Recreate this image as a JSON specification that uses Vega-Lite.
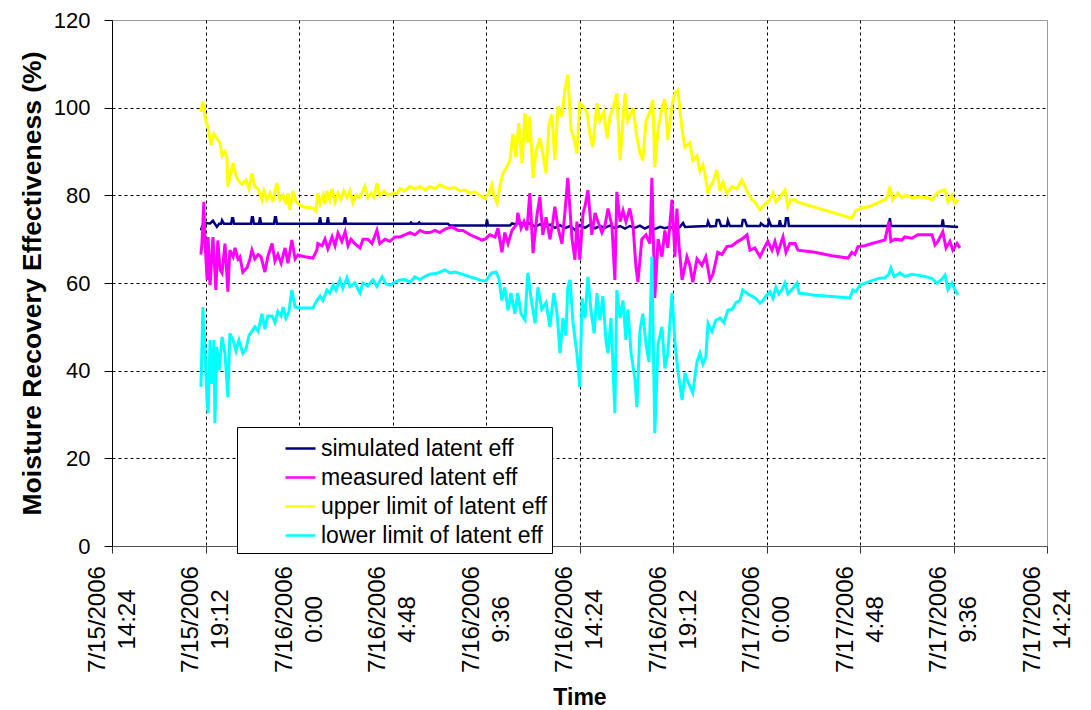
{
"$schema": "https://vega.github.io/schema/vega-lite/v6.json",
"width": 935, "height": 526,
"autosize": "none",
"padding": {"left": 112, "top": 20, "right": 44, "bottom": 164},
"background": "white",
"config": {"font": "Liberation Sans", "view": {"stroke": "#9a9a9a", "strokeWidth": 1}},
"encoding": {
  "x": {"field": "t", "type": "temporal", "title": "Time",
    "scale": {"type": "utc", "nice": false, "domain": [{"year": 2006, "month": 7, "date": 15, "hours": 14, "minutes": 24, "utc": true}, {"year": 2006, "month": 7, "date": 17, "hours": 14, "minutes": 24, "utc": true}]},
    "axis": {
      "values": [
        {"year": 2006, "month": 7, "date": 15, "hours": 14, "minutes": 24, "utc": true},
        {"year": 2006, "month": 7, "date": 15, "hours": 19, "minutes": 12, "utc": true},
        {"year": 2006, "month": 7, "date": 16, "hours": 0, "minutes": 0, "utc": true},
        {"year": 2006, "month": 7, "date": 16, "hours": 4, "minutes": 48, "utc": true},
        {"year": 2006, "month": 7, "date": 16, "hours": 9, "minutes": 36, "utc": true},
        {"year": 2006, "month": 7, "date": 16, "hours": 14, "minutes": 24, "utc": true},
        {"year": 2006, "month": 7, "date": 16, "hours": 19, "minutes": 12, "utc": true},
        {"year": 2006, "month": 7, "date": 17, "hours": 0, "minutes": 0, "utc": true},
        {"year": 2006, "month": 7, "date": 17, "hours": 4, "minutes": 48, "utc": true},
        {"year": 2006, "month": 7, "date": 17, "hours": 9, "minutes": 36, "utc": true},
        {"year": 2006, "month": 7, "date": 17, "hours": 14, "minutes": 24, "utc": true}
      ],
      "labelExpr": "[utcFormat(datum.value, '%-m/%-d/%Y'), utcFormat(datum.value, '%-H:%M')]",
      "labelAngle": -90, "labelAlign": "center", "labelBaseline": "middle", "labelLineHeight": 30,
      "labelFontSize": 24, "labelColor": "black", "labelPadding": 66, "labelOffset": -15, "labelOverlap": false, "labelFlush": false,
      "tickSize": 7, "tickColor": "#333333", "domainColor": "#555555",
      "grid": true, "gridColor": "black", "gridDash": [3, 3],
      "gridOpacity": {"condition": {"test": "datum.value <= utc(2006,6,15,14,24) || datum.value >= utc(2006,6,17,14,24)", "value": 0}, "value": 1},
      "titleFontSize": 23, "titleFontWeight": "bold", "titleColor": "black", "titlePadding": 14
    }
  },
  "y": {"field": "v", "type": "quantitative", "title": "Moisture Recovery Effectiveness (%)",
    "scale": {"domain": [0, 120], "nice": false},
    "axis": {
      "values": [0, 20, 40, 60, 80, 100, 120],
      "labelFontSize": 22, "labelColor": "black", "labelPadding": 14,
      "tickSize": 8, "tickColor": "black", "domainColor": "black",
      "grid": true, "gridColor": "black", "gridDash": [3, 3],
      "gridOpacity": {"condition": {"test": "datum.value >= 120 || datum.value <= 0", "value": 0}, "value": 1},
      "titleFontSize": 26.5, "titleFontWeight": "bold", "titleColor": "black", "titlePadding": 7
    }
  }
},
"layer": [
{"data": {"values": [
{"t":"2006-07-15T18:58Z","v":72},{"t":"2006-07-15T19:01Z","v":72.8},{"t":"2006-07-15T19:07Z","v":73.7},{"t":"2006-07-15T19:26Z","v":73.6},{"t":"2006-07-15T19:35Z","v":74.2},{"t":"2006-07-15T19:41Z","v":73.5},{"t":"2006-07-15T19:47Z","v":72.8},{"t":"2006-07-15T19:54Z","v":73.5},{"t":"2006-07-15T20:00Z","v":73.5},{"t":"2006-07-15T20:03Z","v":74.3},{"t":"2006-07-15T20:09Z","v":73.5},{"t":"2006-07-15T20:31Z","v":73.5},{"t":"2006-07-15T20:34Z","v":74.8},{"t":"2006-07-15T20:37Z","v":74.8},{"t":"2006-07-15T20:40Z","v":73.5},{"t":"2006-07-15T21:32Z","v":73.5},{"t":"2006-07-15T21:35Z","v":75},{"t":"2006-07-15T21:38Z","v":75},{"t":"2006-07-15T21:41Z","v":73.5},{"t":"2006-07-15T21:57Z","v":73.5},{"t":"2006-07-15T22:00Z","v":75},{"t":"2006-07-15T22:03Z","v":73.5},{"t":"2006-07-15T22:43Z","v":73.5},{"t":"2006-07-15T22:46Z","v":75},{"t":"2006-07-15T22:49Z","v":75},{"t":"2006-07-15T22:52Z","v":73.5},
{"t":"2006-07-16T01:01Z","v":73.5},{"t":"2006-07-16T01:05Z","v":75},{"t":"2006-07-16T01:08Z","v":73.5},{"t":"2006-07-16T01:26Z","v":73.5},{"t":"2006-07-16T01:29Z","v":75},{"t":"2006-07-16T01:32Z","v":73.5},{"t":"2006-07-16T02:18Z","v":73.5},{"t":"2006-07-16T02:22Z","v":75},{"t":"2006-07-16T02:25Z","v":73.5},{"t":"2006-07-16T05:42Z","v":73.5},{"t":"2006-07-16T05:45Z","v":73.8},{"t":"2006-07-16T05:48Z","v":73.5},{"t":"2006-07-16T06:06Z","v":73.5},{"t":"2006-07-16T06:10Z","v":73.8},{"t":"2006-07-16T06:13Z","v":73.5},{"t":"2006-07-16T07:39Z","v":73.5},{"t":"2006-07-16T07:45Z","v":73.1},{"t":"2006-07-16T09:36Z","v":73.1},{"t":"2006-07-16T09:39Z","v":74.5},{"t":"2006-07-16T09:42Z","v":73.1},{"t":"2006-07-16T10:50Z","v":73.1},{"t":"2006-07-16T10:56Z","v":73.6},{"t":"2006-07-16T11:05Z","v":73.4},{"t":"2006-07-16T11:21Z","v":73.8},{"t":"2006-07-16T11:36Z","v":73.3},{"t":"2006-07-16T11:51Z","v":73.6},{"t":"2006-07-16T12:07Z","v":72.8},{"t":"2006-07-16T12:22Z","v":73.4},{"t":"2006-07-16T12:38Z","v":72.9},{"t":"2006-07-16T12:53Z","v":73.3},{"t":"2006-07-16T13:08Z","v":72.6},{"t":"2006-07-16T13:24Z","v":73.2},{"t":"2006-07-16T13:39Z","v":72.5},{"t":"2006-07-16T13:55Z","v":73},{"t":"2006-07-16T14:10Z","v":72.1},{"t":"2006-07-16T14:25Z","v":73.2},{"t":"2006-07-16T14:41Z","v":72.6},{"t":"2006-07-16T14:56Z","v":73.3},{"t":"2006-07-16T15:12Z","v":72.5},{"t":"2006-07-16T15:27Z","v":73},{"t":"2006-07-16T15:42Z","v":72.6},{"t":"2006-07-16T15:58Z","v":73.1},{"t":"2006-07-16T16:13Z","v":72.5},{"t":"2006-07-16T16:29Z","v":73},{"t":"2006-07-16T16:44Z","v":72.4},{"t":"2006-07-16T16:59Z","v":73},{"t":"2006-07-16T17:15Z","v":72.6},{"t":"2006-07-16T17:30Z","v":73.1},{"t":"2006-07-16T17:45Z","v":72.4},{"t":"2006-07-16T18:01Z","v":73},{"t":"2006-07-16T18:16Z","v":72.3},{"t":"2006-07-16T18:32Z","v":72.8},{"t":"2006-07-16T18:47Z","v":72.5},{"t":"2006-07-16T19:03Z","v":72.8},{"t":"2006-07-16T19:18Z","v":72.3},{"t":"2006-07-16T19:33Z","v":72.8},{"t":"2006-07-16T19:43Z","v":73.7},{"t":"2006-07-16T19:49Z","v":72.8},{"t":"2006-07-16T20:20Z","v":72.9},{"t":"2006-07-16T20:57Z","v":73},{"t":"2006-07-16T21:00Z","v":74},{"t":"2006-07-16T21:06Z","v":72.9},{"t":"2006-07-16T21:24Z","v":73},{"t":"2006-07-16T21:27Z","v":74.4},{"t":"2006-07-16T21:34Z","v":74.4},{"t":"2006-07-16T21:40Z","v":73},{"t":"2006-07-16T21:58Z","v":73},{"t":"2006-07-16T22:01Z","v":74.2},{"t":"2006-07-16T22:07Z","v":73},{"t":"2006-07-16T22:44Z","v":73},{"t":"2006-07-16T22:47Z","v":74.4},{"t":"2006-07-16T22:53Z","v":74.4},{"t":"2006-07-16T23:00Z","v":73},{"t":"2006-07-16T23:40Z","v":73},{"t":"2006-07-16T23:43Z","v":73.6},{"t":"2006-07-16T23:52Z","v":73},
{"t":"2006-07-17T00:04Z","v":73},{"t":"2006-07-17T00:08Z","v":74.2},{"t":"2006-07-17T00:14Z","v":73},{"t":"2006-07-17T00:38Z","v":73},{"t":"2006-07-17T00:41Z","v":74.3},{"t":"2006-07-17T00:45Z","v":73},{"t":"2006-07-17T00:57Z","v":73},{"t":"2006-07-17T01:00Z","v":74.8},{"t":"2006-07-17T01:06Z","v":74.8},{"t":"2006-07-17T01:09Z","v":73},{"t":"2006-07-17T06:17Z","v":73},{"t":"2006-07-17T06:20Z","v":74.8},{"t":"2006-07-17T06:23Z","v":73},{"t":"2006-07-17T09:00Z","v":73},{"t":"2006-07-17T09:03Z","v":74.5},{"t":"2006-07-17T09:06Z","v":73},{"t":"2006-07-17T09:50Z","v":72.8}
]},
 "mark": {"type": "line", "strokeWidth": 2.5},
 "encoding": {"color": {"datum": "simulated latent eff", "type": "nominal",
   "scale": {"domain": ["simulated latent eff", "measured latent eff", "upper limit of latent eff", "lower limit of latent eff"], "range": ["#000080", "#ff00ff", "#ffff00", "#00ffff"]},
   "legend": {"orient": "none", "legendX": 125, "legendY": 407, "title": null, "symbolType": "stroke", "symbolStrokeWidth": 2.5, "symbolSize": 900, "labelFontSize": 23, "labelColor": "black", "labelLimit": 400, "strokeColor": "black", "fillColor": "white", "padding": 5, "rowPadding": 0, "symbolOffset": 42, "labelOffset": 4}}}
},
{"data": {"values": [
{"t":"2006-07-15T18:58Z","v":66.5},{"t":"2006-07-15T19:01Z","v":69},{"t":"2006-07-15T19:07Z","v":78.5},{"t":"2006-07-15T19:10Z","v":70},{"t":"2006-07-15T19:17Z","v":60.7},{"t":"2006-07-15T19:20Z","v":70.5},{"t":"2006-07-15T19:26Z","v":59.5},{"t":"2006-07-15T19:35Z","v":70.5},{"t":"2006-07-15T19:44Z","v":58.4},{"t":"2006-07-15T19:50Z","v":69.7},{"t":"2006-07-15T19:57Z","v":63},{"t":"2006-07-15T20:03Z","v":62.3},{"t":"2006-07-15T20:12Z","v":69},{"t":"2006-07-15T20:21Z","v":58},{"t":"2006-07-15T20:27Z","v":67.5},{"t":"2006-07-15T20:37Z","v":66},{"t":"2006-07-15T20:43Z","v":68},{"t":"2006-07-15T20:52Z","v":65.5},{"t":"2006-07-15T20:58Z","v":66},{"t":"2006-07-15T21:07Z","v":62.5},{"t":"2006-07-15T21:20Z","v":63.5},{"t":"2006-07-15T21:29Z","v":65.5},{"t":"2006-07-15T21:35Z","v":67.5},{"t":"2006-07-15T21:44Z","v":65.5},{"t":"2006-07-15T21:54Z","v":66.5},{"t":"2006-07-15T22:03Z","v":66},{"t":"2006-07-15T22:15Z","v":62.5},{"t":"2006-07-15T22:24Z","v":66},{"t":"2006-07-15T22:37Z","v":69},{"t":"2006-07-15T22:46Z","v":65},{"t":"2006-07-15T22:55Z","v":66.5},{"t":"2006-07-15T23:05Z","v":64.5},{"t":"2006-07-15T23:17Z","v":68},{"t":"2006-07-15T23:26Z","v":64.5},{"t":"2006-07-15T23:38Z","v":69.8},{"t":"2006-07-15T23:48Z","v":65.5},{"t":"2006-07-15T23:57Z","v":66.4},
{"t":"2006-07-16T00:18Z","v":66},{"t":"2006-07-16T00:43Z","v":65.7},{"t":"2006-07-16T00:55Z","v":67.5},{"t":"2006-07-16T00:58Z","v":69},{"t":"2006-07-16T01:11Z","v":68.5},{"t":"2006-07-16T01:20Z","v":70},{"t":"2006-07-16T01:29Z","v":67.8},{"t":"2006-07-16T01:42Z","v":70.5},{"t":"2006-07-16T01:51Z","v":68.5},{"t":"2006-07-16T02:00Z","v":71.4},{"t":"2006-07-16T02:12Z","v":69.5},{"t":"2006-07-16T02:22Z","v":71.7},{"t":"2006-07-16T02:31Z","v":68.5},{"t":"2006-07-16T02:40Z","v":70},{"t":"2006-07-16T02:52Z","v":69},{"t":"2006-07-16T03:08Z","v":68},{"t":"2006-07-16T03:17Z","v":70},{"t":"2006-07-16T03:32Z","v":70},{"t":"2006-07-16T03:45Z","v":69},{"t":"2006-07-16T04:00Z","v":72},{"t":"2006-07-16T04:09Z","v":69},{"t":"2006-07-16T04:25Z","v":70},{"t":"2006-07-16T04:40Z","v":69.5},{"t":"2006-07-16T04:56Z","v":70.5},{"t":"2006-07-16T05:11Z","v":70.5},{"t":"2006-07-16T05:26Z","v":71},{"t":"2006-07-16T05:42Z","v":71.5},{"t":"2006-07-16T05:57Z","v":71},{"t":"2006-07-16T06:13Z","v":72},{"t":"2006-07-16T06:28Z","v":71.5},{"t":"2006-07-16T06:43Z","v":71.5},{"t":"2006-07-16T06:59Z","v":72},{"t":"2006-07-16T07:14Z","v":71.5},{"t":"2006-07-16T07:30Z","v":72.3},{"t":"2006-07-16T07:51Z","v":72.8},{"t":"2006-07-16T08:10Z","v":72},{"t":"2006-07-16T08:25Z","v":72},{"t":"2006-07-16T08:47Z","v":71},{"t":"2006-07-16T09:02Z","v":70.5},{"t":"2006-07-16T09:24Z","v":69.8},{"t":"2006-07-16T09:33Z","v":70},{"t":"2006-07-16T09:48Z","v":71},{"t":"2006-07-16T10:04Z","v":70.5},{"t":"2006-07-16T10:13Z","v":72.5},{"t":"2006-07-16T10:25Z","v":67},{"t":"2006-07-16T10:34Z","v":71.5},{"t":"2006-07-16T10:44Z","v":69},{"t":"2006-07-16T10:56Z","v":72},{"t":"2006-07-16T11:11Z","v":73.5},{"t":"2006-07-16T11:14Z","v":76},{"t":"2006-07-16T11:24Z","v":72.5},{"t":"2006-07-16T11:33Z","v":74},{"t":"2006-07-16T11:42Z","v":72},{"t":"2006-07-16T11:51Z","v":80.5},{"t":"2006-07-16T12:01Z","v":66.8},{"t":"2006-07-16T12:13Z","v":75.5},{"t":"2006-07-16T12:22Z","v":79.7},{"t":"2006-07-16T12:31Z","v":71},{"t":"2006-07-16T12:41Z","v":75},{"t":"2006-07-16T12:53Z","v":70},{"t":"2006-07-16T13:02Z","v":74},{"t":"2006-07-16T13:08Z","v":77.4},{"t":"2006-07-16T13:18Z","v":72.5},{"t":"2006-07-16T13:30Z","v":69},{"t":"2006-07-16T13:39Z","v":76},{"t":"2006-07-16T13:48Z","v":84},{"t":"2006-07-16T14:01Z","v":70},{"t":"2006-07-16T14:10Z","v":65.3},{"t":"2006-07-16T14:16Z","v":74},{"t":"2006-07-16T14:25Z","v":65.3},{"t":"2006-07-16T14:35Z","v":76},{"t":"2006-07-16T14:41Z","v":77.5},{"t":"2006-07-16T14:50Z","v":81.2},{"t":"2006-07-16T15:02Z","v":71},{"t":"2006-07-16T15:12Z","v":76},{"t":"2006-07-16T15:21Z","v":74},{"t":"2006-07-16T15:33Z","v":71.5},{"t":"2006-07-16T15:42Z","v":73},{"t":"2006-07-16T15:52Z","v":77},{"t":"2006-07-16T16:04Z","v":73},{"t":"2006-07-16T16:13Z","v":60.7},{"t":"2006-07-16T16:19Z","v":80.8},{"t":"2006-07-16T16:29Z","v":74},{"t":"2006-07-16T16:38Z","v":76.5},{"t":"2006-07-16T16:47Z","v":74},{"t":"2006-07-16T16:59Z","v":77},{"t":"2006-07-16T17:09Z","v":73},{"t":"2006-07-16T17:18Z","v":63.6},{"t":"2006-07-16T17:24Z","v":60.2},{"t":"2006-07-16T17:36Z","v":70},{"t":"2006-07-16T17:49Z","v":71},{"t":"2006-07-16T18:01Z","v":69},{"t":"2006-07-16T18:07Z","v":84},{"t":"2006-07-16T18:16Z","v":56.6},{"t":"2006-07-16T18:26Z","v":70},{"t":"2006-07-16T18:38Z","v":66},{"t":"2006-07-16T18:47Z","v":72},{"t":"2006-07-16T18:56Z","v":68},{"t":"2006-07-16T19:09Z","v":79},{"t":"2006-07-16T19:18Z","v":66},{"t":"2006-07-16T19:24Z","v":77},{"t":"2006-07-16T19:30Z","v":69},{"t":"2006-07-16T19:40Z","v":60.7},{"t":"2006-07-16T19:55Z","v":66},{"t":"2006-07-16T20:04Z","v":64},{"t":"2006-07-16T20:13Z","v":60.2},{"t":"2006-07-16T20:26Z","v":65.5},{"t":"2006-07-16T20:41Z","v":64},{"t":"2006-07-16T20:53Z","v":66},{"t":"2006-07-16T21:06Z","v":60.7},{"t":"2006-07-16T21:15Z","v":62},{"t":"2006-07-16T21:30Z","v":67},{"t":"2006-07-16T21:43Z","v":66.5},{"t":"2006-07-16T21:58Z","v":68.3},{"t":"2006-07-16T22:14Z","v":68.5},{"t":"2006-07-16T22:32Z","v":69.5},{"t":"2006-07-16T22:44Z","v":70},{"t":"2006-07-16T23:00Z","v":71},{"t":"2006-07-16T23:09Z","v":67.5},{"t":"2006-07-16T23:24Z","v":68},{"t":"2006-07-16T23:40Z","v":66},{"t":"2006-07-16T23:55Z","v":68.3},
{"t":"2006-07-17T00:04Z","v":69.5},{"t":"2006-07-17T00:17Z","v":67.5},{"t":"2006-07-17T00:26Z","v":69.5},{"t":"2006-07-17T00:35Z","v":67},{"t":"2006-07-17T00:51Z","v":70.5},{"t":"2006-07-17T01:00Z","v":67},{"t":"2006-07-17T01:12Z","v":69},{"t":"2006-07-17T01:28Z","v":69},{"t":"2006-07-17T01:37Z","v":67.5},{"t":"2006-07-17T02:29Z","v":67},{"t":"2006-07-17T03:22Z","v":66.2},{"t":"2006-07-17T04:11Z","v":65.7},{"t":"2006-07-17T04:23Z","v":67},{"t":"2006-07-17T04:32Z","v":66.5},{"t":"2006-07-17T04:42Z","v":68.3},{"t":"2006-07-17T05:03Z","v":68.5},{"t":"2006-07-17T05:25Z","v":69},{"t":"2006-07-17T05:49Z","v":69.5},{"t":"2006-07-17T06:05Z","v":69.8},{"t":"2006-07-17T06:17Z","v":74},{"t":"2006-07-17T06:23Z","v":69.5},{"t":"2006-07-17T06:36Z","v":70},{"t":"2006-07-17T06:57Z","v":69.8},{"t":"2006-07-17T07:06Z","v":70.5},{"t":"2006-07-17T07:28Z","v":70.2},{"t":"2006-07-17T07:46Z","v":71},{"t":"2006-07-17T08:30Z","v":71},{"t":"2006-07-17T08:39Z","v":68.7},{"t":"2006-07-17T08:48Z","v":69.5},{"t":"2006-07-17T09:03Z","v":71.7},{"t":"2006-07-17T09:13Z","v":68},{"t":"2006-07-17T09:25Z","v":69.5},{"t":"2006-07-17T09:34Z","v":67.5},{"t":"2006-07-17T09:47Z","v":69},{"t":"2006-07-17T09:56Z","v":68}
]},
 "mark": {"type": "line", "strokeWidth": 3},
 "encoding": {"color": {"datum": "measured latent eff", "type": "nominal"}}
},
{"data": {"values": [
{"t":"2006-07-15T18:58Z","v":99},{"t":"2006-07-15T19:04Z","v":101.4},{"t":"2006-07-15T19:13Z","v":97},{"t":"2006-07-15T19:20Z","v":95.5},{"t":"2006-07-15T19:29Z","v":91.5},{"t":"2006-07-15T19:38Z","v":94},{"t":"2006-07-15T19:47Z","v":93},{"t":"2006-07-15T19:57Z","v":92},{"t":"2006-07-15T20:03Z","v":89},{"t":"2006-07-15T20:12Z","v":90},{"t":"2006-07-15T20:18Z","v":88.5},{"t":"2006-07-15T20:21Z","v":82},{"t":"2006-07-15T20:37Z","v":87.4},{"t":"2006-07-15T20:46Z","v":84.5},{"t":"2006-07-15T20:52Z","v":83.5},{"t":"2006-07-15T21:04Z","v":82.5},{"t":"2006-07-15T21:17Z","v":83.5},{"t":"2006-07-15T21:26Z","v":81.5},{"t":"2006-07-15T21:35Z","v":85},{"t":"2006-07-15T21:44Z","v":82},{"t":"2006-07-15T21:54Z","v":81.5},{"t":"2006-07-15T22:06Z","v":79},{"t":"2006-07-15T22:12Z","v":81},{"t":"2006-07-15T22:21Z","v":79},{"t":"2006-07-15T22:31Z","v":80.5},{"t":"2006-07-15T22:40Z","v":78.5},{"t":"2006-07-15T22:46Z","v":81},{"t":"2006-07-15T22:52Z","v":82.8},{"t":"2006-07-15T23:01Z","v":79},{"t":"2006-07-15T23:11Z","v":80},{"t":"2006-07-15T23:20Z","v":78},{"t":"2006-07-15T23:26Z","v":80.5},{"t":"2006-07-15T23:32Z","v":76.7},{"t":"2006-07-15T23:41Z","v":81},{"t":"2006-07-15T23:51Z","v":78.5},
{"t":"2006-07-16T00:00Z","v":78},{"t":"2006-07-16T00:09Z","v":77.5},{"t":"2006-07-16T00:18Z","v":77.3},{"t":"2006-07-16T00:34Z","v":77.2},{"t":"2006-07-16T00:46Z","v":77},{"t":"2006-07-16T00:52Z","v":76.5},{"t":"2006-07-16T00:58Z","v":80.5},{"t":"2006-07-16T01:05Z","v":78},{"t":"2006-07-16T01:14Z","v":80},{"t":"2006-07-16T01:20Z","v":78},{"t":"2006-07-16T01:26Z","v":81},{"t":"2006-07-16T01:35Z","v":79},{"t":"2006-07-16T01:42Z","v":81.5},{"t":"2006-07-16T01:51Z","v":78.5},{"t":"2006-07-16T02:00Z","v":80.5},{"t":"2006-07-16T02:09Z","v":79},{"t":"2006-07-16T02:18Z","v":81},{"t":"2006-07-16T02:28Z","v":79.5},{"t":"2006-07-16T02:37Z","v":81},{"t":"2006-07-16T02:46Z","v":78.3},{"t":"2006-07-16T02:55Z","v":80},{"t":"2006-07-16T03:05Z","v":79.5},{"t":"2006-07-16T03:14Z","v":80.5},{"t":"2006-07-16T03:23Z","v":82},{"t":"2006-07-16T03:32Z","v":79.5},{"t":"2006-07-16T03:42Z","v":80.5},{"t":"2006-07-16T03:51Z","v":79.5},{"t":"2006-07-16T04:00Z","v":82.8},{"t":"2006-07-16T04:09Z","v":80},{"t":"2006-07-16T04:22Z","v":81},{"t":"2006-07-16T04:34Z","v":80},{"t":"2006-07-16T04:46Z","v":80.3},{"t":"2006-07-16T05:02Z","v":80.5},{"t":"2006-07-16T05:11Z","v":81.5},{"t":"2006-07-16T05:26Z","v":81},{"t":"2006-07-16T05:42Z","v":82},{"t":"2006-07-16T05:57Z","v":81.5},{"t":"2006-07-16T06:13Z","v":82},{"t":"2006-07-16T06:28Z","v":81.2},{"t":"2006-07-16T06:43Z","v":82},{"t":"2006-07-16T06:59Z","v":81.5},{"t":"2006-07-16T07:14Z","v":82.4},{"t":"2006-07-16T07:30Z","v":81.8},{"t":"2006-07-16T07:45Z","v":81.5},{"t":"2006-07-16T08:00Z","v":81.8},{"t":"2006-07-16T08:16Z","v":81},{"t":"2006-07-16T08:31Z","v":81.2},{"t":"2006-07-16T08:47Z","v":80.5},{"t":"2006-07-16T09:02Z","v":80.8},{"t":"2006-07-16T09:17Z","v":80},{"t":"2006-07-16T09:33Z","v":79.3},{"t":"2006-07-16T09:45Z","v":80.5},{"t":"2006-07-16T09:54Z","v":82.4},{"t":"2006-07-16T10:00Z","v":80},{"t":"2006-07-16T10:10Z","v":78.2},{"t":"2006-07-16T10:19Z","v":82},{"t":"2006-07-16T10:28Z","v":85},{"t":"2006-07-16T10:37Z","v":86},{"t":"2006-07-16T10:50Z","v":88},{"t":"2006-07-16T10:59Z","v":94},{"t":"2006-07-16T11:08Z","v":88.8},{"t":"2006-07-16T11:17Z","v":96.5},{"t":"2006-07-16T11:27Z","v":87.4},{"t":"2006-07-16T11:36Z","v":98.7},{"t":"2006-07-16T11:45Z","v":92},{"t":"2006-07-16T11:51Z","v":98},{"t":"2006-07-16T12:01Z","v":84},{"t":"2006-07-16T12:10Z","v":90},{"t":"2006-07-16T12:22Z","v":93},{"t":"2006-07-16T12:31Z","v":89.6},{"t":"2006-07-16T12:41Z","v":85},{"t":"2006-07-16T12:50Z","v":96},{"t":"2006-07-16T12:59Z","v":98.5},{"t":"2006-07-16T13:08Z","v":88},{"t":"2006-07-16T13:18Z","v":100.3},{"t":"2006-07-16T13:30Z","v":98},{"t":"2006-07-16T13:39Z","v":104},{"t":"2006-07-16T13:48Z","v":107.5},{"t":"2006-07-16T13:58Z","v":95},{"t":"2006-07-16T14:07Z","v":93},{"t":"2006-07-16T14:16Z","v":89.6},{"t":"2006-07-16T14:25Z","v":101},{"t":"2006-07-16T14:35Z","v":100.3},{"t":"2006-07-16T14:47Z","v":99},{"t":"2006-07-16T14:56Z","v":94},{"t":"2006-07-16T15:05Z","v":91},{"t":"2006-07-16T15:18Z","v":101},{"t":"2006-07-16T15:27Z","v":97},{"t":"2006-07-16T15:39Z","v":99},{"t":"2006-07-16T15:49Z","v":93},{"t":"2006-07-16T15:58Z","v":98},{"t":"2006-07-16T16:10Z","v":100.5},{"t":"2006-07-16T16:19Z","v":103.3},{"t":"2006-07-16T16:29Z","v":88},{"t":"2006-07-16T16:44Z","v":103.3},{"t":"2006-07-16T16:53Z","v":97},{"t":"2006-07-16T16:59Z","v":98},{"t":"2006-07-16T17:09Z","v":100},{"t":"2006-07-16T17:21Z","v":93.3},{"t":"2006-07-16T17:30Z","v":89.7},{"t":"2006-07-16T17:39Z","v":88},{"t":"2006-07-16T17:49Z","v":97},{"t":"2006-07-16T18:01Z","v":99},{"t":"2006-07-16T18:10Z","v":101.8},{"t":"2006-07-16T18:16Z","v":86.5},{"t":"2006-07-16T18:26Z","v":95},{"t":"2006-07-16T18:38Z","v":100},{"t":"2006-07-16T18:47Z","v":102},{"t":"2006-07-16T18:56Z","v":92.6},{"t":"2006-07-16T19:09Z","v":100.5},{"t":"2006-07-16T19:18Z","v":103.3},{"t":"2006-07-16T19:27Z","v":104},{"t":"2006-07-16T19:40Z","v":95},{"t":"2006-07-16T19:49Z","v":91},{"t":"2006-07-16T20:04Z","v":92},{"t":"2006-07-16T20:13Z","v":88},{"t":"2006-07-16T20:26Z","v":89},{"t":"2006-07-16T20:35Z","v":85.5},{"t":"2006-07-16T20:44Z","v":87},{"t":"2006-07-16T20:50Z","v":85},{"t":"2006-07-16T21:00Z","v":80.5},{"t":"2006-07-16T21:06Z","v":82},{"t":"2006-07-16T21:15Z","v":83},{"t":"2006-07-16T21:27Z","v":85.8},{"t":"2006-07-16T21:37Z","v":81},{"t":"2006-07-16T21:46Z","v":83},{"t":"2006-07-16T21:58Z","v":80.5},{"t":"2006-07-16T22:14Z","v":82},{"t":"2006-07-16T22:29Z","v":81.5},{"t":"2006-07-16T22:44Z","v":83.5},{"t":"2006-07-16T23:00Z","v":81},{"t":"2006-07-16T23:15Z","v":79},{"t":"2006-07-16T23:24Z","v":78.5},{"t":"2006-07-16T23:40Z","v":76.7},{"t":"2006-07-16T23:49Z","v":77.5},{"t":"2006-07-16T23:58Z","v":78.2},
{"t":"2006-07-17T00:11Z","v":79},{"t":"2006-07-17T00:20Z","v":80.5},{"t":"2006-07-17T00:29Z","v":78.5},{"t":"2006-07-17T00:41Z","v":79.5},{"t":"2006-07-17T00:57Z","v":81.2},{"t":"2006-07-17T01:06Z","v":77.4},{"t":"2006-07-17T01:15Z","v":79},{"t":"2006-07-17T01:28Z","v":79},{"t":"2006-07-17T01:34Z","v":78.5},{"t":"2006-07-17T04:23Z","v":74.8},{"t":"2006-07-17T04:35Z","v":76.5},{"t":"2006-07-17T04:48Z","v":77},{"t":"2006-07-17T05:19Z","v":77.5},{"t":"2006-07-17T05:49Z","v":78.5},{"t":"2006-07-17T06:05Z","v":79},{"t":"2006-07-17T06:14Z","v":80},{"t":"2006-07-17T06:20Z","v":82},{"t":"2006-07-17T06:29Z","v":79},{"t":"2006-07-17T06:45Z","v":80.5},{"t":"2006-07-17T06:57Z","v":79.5},{"t":"2006-07-17T07:09Z","v":80},{"t":"2006-07-17T07:28Z","v":79.5},{"t":"2006-07-17T07:53Z","v":79.7},{"t":"2006-07-17T08:14Z","v":79.5},{"t":"2006-07-17T08:30Z","v":79},{"t":"2006-07-17T08:45Z","v":80.5},{"t":"2006-07-17T08:57Z","v":81},{"t":"2006-07-17T09:10Z","v":81.2},{"t":"2006-07-17T09:19Z","v":78.5},{"t":"2006-07-17T09:31Z","v":80},{"t":"2006-07-17T09:40Z","v":78.2},{"t":"2006-07-17T09:50Z","v":79}
]},
 "mark": {"type": "line", "strokeWidth": 3},
 "encoding": {"color": {"datum": "upper limit of latent eff", "type": "nominal"}}
},
{"data": {"values": [
{"t":"2006-07-15T18:58Z","v":36.3},{"t":"2006-07-15T19:04Z","v":54.5},{"t":"2006-07-15T19:10Z","v":45.4},{"t":"2006-07-15T19:17Z","v":33},{"t":"2006-07-15T19:20Z","v":30.3},{"t":"2006-07-15T19:26Z","v":47},{"t":"2006-07-15T19:32Z","v":37},{"t":"2006-07-15T19:38Z","v":47},{"t":"2006-07-15T19:41Z","v":28},{"t":"2006-07-15T19:47Z","v":45.4},{"t":"2006-07-15T19:54Z","v":40},{"t":"2006-07-15T20:03Z","v":47.7},{"t":"2006-07-15T20:12Z","v":44},{"t":"2006-07-15T20:21Z","v":34},{"t":"2006-07-15T20:27Z","v":48.5},{"t":"2006-07-15T20:37Z","v":47},{"t":"2006-07-15T20:46Z","v":44.5},{"t":"2006-07-15T20:55Z","v":47},{"t":"2006-07-15T21:07Z","v":44},{"t":"2006-07-15T21:17Z","v":45},{"t":"2006-07-15T21:26Z","v":48},{"t":"2006-07-15T21:35Z","v":49},{"t":"2006-07-15T21:44Z","v":50},{"t":"2006-07-15T21:54Z","v":49},{"t":"2006-07-15T22:06Z","v":53},{"t":"2006-07-15T22:15Z","v":49.5},{"t":"2006-07-15T22:24Z","v":52.5},{"t":"2006-07-15T22:37Z","v":52.5},{"t":"2006-07-15T22:46Z","v":51},{"t":"2006-07-15T22:55Z","v":53.5},{"t":"2006-07-15T23:05Z","v":52.5},{"t":"2006-07-15T23:11Z","v":54.5},{"t":"2006-07-15T23:20Z","v":52},{"t":"2006-07-15T23:29Z","v":53.5},{"t":"2006-07-15T23:38Z","v":58.4},{"t":"2006-07-15T23:48Z","v":54.5},
{"t":"2006-07-16T00:03Z","v":54.3},{"t":"2006-07-16T00:43Z","v":54.3},{"t":"2006-07-16T00:55Z","v":56},{"t":"2006-07-16T01:05Z","v":57},{"t":"2006-07-16T01:14Z","v":56},{"t":"2006-07-16T01:26Z","v":58.4},{"t":"2006-07-16T01:35Z","v":57.7},{"t":"2006-07-16T01:45Z","v":59.5},{"t":"2006-07-16T01:54Z","v":58.4},{"t":"2006-07-16T02:06Z","v":60.7},{"t":"2006-07-16T02:15Z","v":58.8},{"t":"2006-07-16T02:28Z","v":61.2},{"t":"2006-07-16T02:37Z","v":59.2},{"t":"2006-07-16T02:52Z","v":60},{"t":"2006-07-16T03:08Z","v":57.7},{"t":"2006-07-16T03:17Z","v":60},{"t":"2006-07-16T03:32Z","v":59.3},{"t":"2006-07-16T03:48Z","v":60.7},{"t":"2006-07-16T04:00Z","v":59.2},{"t":"2006-07-16T04:16Z","v":61.4},{"t":"2006-07-16T04:28Z","v":59.8},{"t":"2006-07-16T04:40Z","v":59.5},{"t":"2006-07-16T04:56Z","v":60.2},{"t":"2006-07-16T05:11Z","v":60.7},{"t":"2006-07-16T05:26Z","v":60.8},{"t":"2006-07-16T05:42Z","v":60.2},{"t":"2006-07-16T05:57Z","v":61.4},{"t":"2006-07-16T06:13Z","v":60.8},{"t":"2006-07-16T06:28Z","v":61.5},{"t":"2006-07-16T06:43Z","v":62},{"t":"2006-07-16T07:05Z","v":62.2},{"t":"2006-07-16T07:30Z","v":63},{"t":"2006-07-16T07:45Z","v":62.3},{"t":"2006-07-16T08:00Z","v":62.5},{"t":"2006-07-16T08:16Z","v":62.2},{"t":"2006-07-16T08:31Z","v":61.8},{"t":"2006-07-16T08:47Z","v":61.4},{"t":"2006-07-16T09:05Z","v":61},{"t":"2006-07-16T09:24Z","v":60.5},{"t":"2006-07-16T09:36Z","v":60.5},{"t":"2006-07-16T09:45Z","v":61.5},{"t":"2006-07-16T09:54Z","v":62.3},{"t":"2006-07-16T10:07Z","v":62.5},{"t":"2006-07-16T10:16Z","v":61},{"t":"2006-07-16T10:25Z","v":56},{"t":"2006-07-16T10:34Z","v":59},{"t":"2006-07-16T10:44Z","v":53.8},{"t":"2006-07-16T10:53Z","v":57.7},{"t":"2006-07-16T11:05Z","v":53},{"t":"2006-07-16T11:14Z","v":57.7},{"t":"2006-07-16T11:24Z","v":53},{"t":"2006-07-16T11:36Z","v":51.6},{"t":"2006-07-16T11:45Z","v":62.3},{"t":"2006-07-16T11:55Z","v":56.5},{"t":"2006-07-16T12:07Z","v":50.8},{"t":"2006-07-16T12:16Z","v":59},{"t":"2006-07-16T12:28Z","v":54},{"t":"2006-07-16T12:41Z","v":55.5},{"t":"2006-07-16T12:53Z","v":50},{"t":"2006-07-16T13:05Z","v":57.7},{"t":"2006-07-16T13:15Z","v":53},{"t":"2006-07-16T13:24Z","v":44},{"t":"2006-07-16T13:33Z","v":52},{"t":"2006-07-16T13:42Z","v":48},{"t":"2006-07-16T13:48Z","v":59},{"t":"2006-07-16T13:55Z","v":60.7},{"t":"2006-07-16T14:04Z","v":51},{"t":"2006-07-16T14:16Z","v":44},{"t":"2006-07-16T14:25Z","v":36.3},{"t":"2006-07-16T14:32Z","v":56.5},{"t":"2006-07-16T14:41Z","v":52},{"t":"2006-07-16T14:50Z","v":61.4},{"t":"2006-07-16T14:59Z","v":54},{"t":"2006-07-16T15:09Z","v":48.5},{"t":"2006-07-16T15:18Z","v":57.7},{"t":"2006-07-16T15:27Z","v":51.5},{"t":"2006-07-16T15:36Z","v":57},{"t":"2006-07-16T15:46Z","v":46.5},{"t":"2006-07-16T15:52Z","v":44},{"t":"2006-07-16T16:01Z","v":52},{"t":"2006-07-16T16:13Z","v":30.3},{"t":"2006-07-16T16:19Z","v":58.4},{"t":"2006-07-16T16:29Z","v":52},{"t":"2006-07-16T16:38Z","v":56},{"t":"2006-07-16T16:47Z","v":47},{"t":"2006-07-16T16:53Z","v":54},{"t":"2006-07-16T17:03Z","v":44},{"t":"2006-07-16T17:15Z","v":37.9},{"t":"2006-07-16T17:21Z","v":31.7},{"t":"2006-07-16T17:30Z","v":49},{"t":"2006-07-16T17:39Z","v":53},{"t":"2006-07-16T17:49Z","v":46},{"t":"2006-07-16T17:58Z","v":42},{"t":"2006-07-16T18:07Z","v":66},{"t":"2006-07-16T18:16Z","v":25.8},{"t":"2006-07-16T18:26Z","v":46},{"t":"2006-07-16T18:38Z","v":50},{"t":"2006-07-16T18:47Z","v":40.5},{"t":"2006-07-16T18:56Z","v":44},{"t":"2006-07-16T19:09Z","v":57.7},{"t":"2006-07-16T19:18Z","v":46.5},{"t":"2006-07-16T19:27Z","v":40},{"t":"2006-07-16T19:40Z","v":33.3},{"t":"2006-07-16T19:49Z","v":39.5},{"t":"2006-07-16T19:58Z","v":37.5},{"t":"2006-07-16T20:13Z","v":34.9},{"t":"2006-07-16T20:26Z","v":42},{"t":"2006-07-16T20:35Z","v":44},{"t":"2006-07-16T20:44Z","v":41.5},{"t":"2006-07-16T20:53Z","v":43},{"t":"2006-07-16T21:00Z","v":50.8},{"t":"2006-07-16T21:12Z","v":49},{"t":"2006-07-16T21:24Z","v":51.5},{"t":"2006-07-16T21:37Z","v":52},{"t":"2006-07-16T21:49Z","v":51},{"t":"2006-07-16T22:01Z","v":53.8},{"t":"2006-07-16T22:14Z","v":54},{"t":"2006-07-16T22:26Z","v":55.5},{"t":"2006-07-16T22:38Z","v":56},{"t":"2006-07-16T22:47Z","v":58.4},{"t":"2006-07-16T23:03Z","v":57.5},{"t":"2006-07-16T23:15Z","v":57},{"t":"2006-07-16T23:27Z","v":56.5},{"t":"2006-07-16T23:40Z","v":55.4},{"t":"2006-07-16T23:49Z","v":56},{"t":"2006-07-16T23:58Z","v":57},
{"t":"2006-07-17T00:11Z","v":58},{"t":"2006-07-17T00:20Z","v":56.5},{"t":"2006-07-17T00:29Z","v":59},{"t":"2006-07-17T00:38Z","v":57.5},{"t":"2006-07-17T00:48Z","v":58.5},{"t":"2006-07-17T00:57Z","v":60},{"t":"2006-07-17T01:06Z","v":57.5},{"t":"2006-07-17T01:18Z","v":58.5},{"t":"2006-07-17T01:34Z","v":60},{"t":"2006-07-17T01:40Z","v":57.7},{"t":"2006-07-17T02:29Z","v":57.2},{"t":"2006-07-17T03:22Z","v":56.9},{"t":"2006-07-17T04:17Z","v":56.6},{"t":"2006-07-17T04:26Z","v":58.4},{"t":"2006-07-17T04:35Z","v":58},{"t":"2006-07-17T04:48Z","v":59.5},{"t":"2006-07-17T05:12Z","v":60.2},{"t":"2006-07-17T05:43Z","v":61},{"t":"2006-07-17T06:05Z","v":61.2},{"t":"2006-07-17T06:17Z","v":62},{"t":"2006-07-17T06:23Z","v":63.4},{"t":"2006-07-17T06:33Z","v":61.5},{"t":"2006-07-17T06:51Z","v":62.3},{"t":"2006-07-17T07:06Z","v":61.5},{"t":"2006-07-17T07:28Z","v":62},{"t":"2006-07-17T07:46Z","v":61.8},{"t":"2006-07-17T08:08Z","v":61.5},{"t":"2006-07-17T08:30Z","v":61},{"t":"2006-07-17T08:45Z","v":60},{"t":"2006-07-17T09:00Z","v":60.8},{"t":"2006-07-17T09:10Z","v":61.8},{"t":"2006-07-17T09:19Z","v":58.5},{"t":"2006-07-17T09:31Z","v":60},{"t":"2006-07-17T09:40Z","v":58.5},{"t":"2006-07-17T09:50Z","v":57.3}
]},
 "mark": {"type": "line", "strokeWidth": 3},
 "encoding": {"color": {"datum": "lower limit of latent eff", "type": "nominal"}}
}
]
}
